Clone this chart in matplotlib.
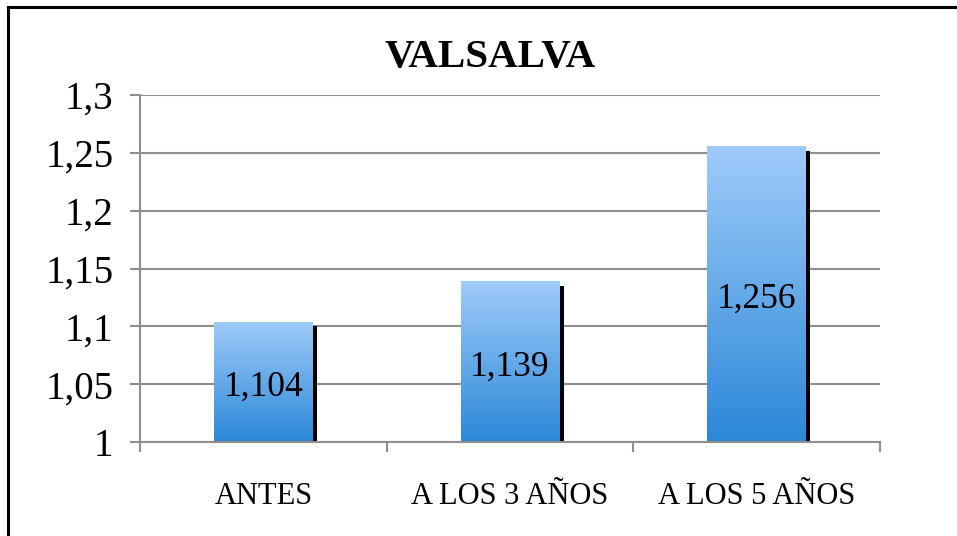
import numpy as np
import matplotlib.pyplot as plt
from matplotlib.colors import LinearSegmentedColormap

categories = ["ANTES", "A LOS 3 AÑOS", "A LOS 5 AÑOS"]
values = [1.104, 1.139, 1.256]
value_labels = ["1,104", "1,139", "1,256"]
y_ticks = [1.0, 1.05, 1.1, 1.15, 1.2, 1.25, 1.3]
y_tick_labels = ["1", "1,05", "1,1", "1,15", "1,2", "1,25", "1,3"]

plt.rcParams['font.family'] = ['Liberation Serif', 'DejaVu Serif']

fig = plt.figure(figsize=(9.57, 5.36), dpi=100)
ax = fig.add_axes([140/957, 94/536, 740/957, 347/536])

grey = "#8f8f8f"
width = 0.4
x = np.arange(len(categories))

# gradient from light top to darker bottom
cmap = LinearSegmentedColormap.from_list("bar", ["#2b88d8", "#9fcbfa"])
grad = np.linspace(0, 1, 256).reshape(-1, 1)

for xi, v, lab in zip(x, values, value_labels):
    # dark shadow to the right of each bar
    ax.bar(xi + 0.018, v - 1.0 - 0.004, width=width, bottom=1.0,
           color="black", zorder=2)
    bar = ax.bar(xi, v - 1.0, width=width, bottom=1.0, color="none",
                 edgecolor="none", zorder=3)[0]
    im = ax.imshow(grad, cmap=cmap, origin="lower", aspect="auto",
                   extent=[xi - width/2, xi + width/2, 1.0, v], zorder=3)
    im.set_clip_path(bar)
    ax.text(xi, (1.0 + v) / 2 - 0.005, lab, ha="center", va="center",
            fontsize=25.5, color="black", zorder=4)

ax.set_xlim(-0.5, 2.5)
ax.set_ylim(1.0, 1.3)
ax.set_yticks(y_ticks)
ax.set_yticklabels(y_tick_labels, fontsize=28)
ax.set_xticks(x)
ax.set_xticklabels(categories, fontsize=22)
ax.set_xticks([-0.5, 0.5, 1.5, 2.5], minor=True)

ax.tick_params(axis="x", which="major", length=0, pad=29)
ax.tick_params(axis="x", which="minor", length=7, width=1.5, color=grey, direction="out")
ax.tick_params(axis="y", length=7, width=1.5, color=grey, pad=12)

ax.yaxis.grid(True, color=grey, linewidth=1.5)
ax.set_axisbelow(True)
for s in ["top", "right"]:
    ax.spines[s].set_visible(False)
for s in ["left", "bottom"]:
    ax.spines[s].set_color(grey)
    ax.spines[s].set_linewidth(1.5)
ax.spines["bottom"].set_zorder(5)

fig.text(490/957, 1 - 58/536, "VALSALVA", ha="center", va="center",
         fontsize=29.5, fontweight="bold")

# outer frame (left and top edges visible)
fig.add_artist(plt.Line2D([8/957, 8/957], [0, 1 - 7/536], color="black", lw=2.2))
fig.add_artist(plt.Line2D([8/957, 1], [1 - 7/536, 1 - 7/536], color="black", lw=2.2))

fig.savefig("out.png", dpi=100)
